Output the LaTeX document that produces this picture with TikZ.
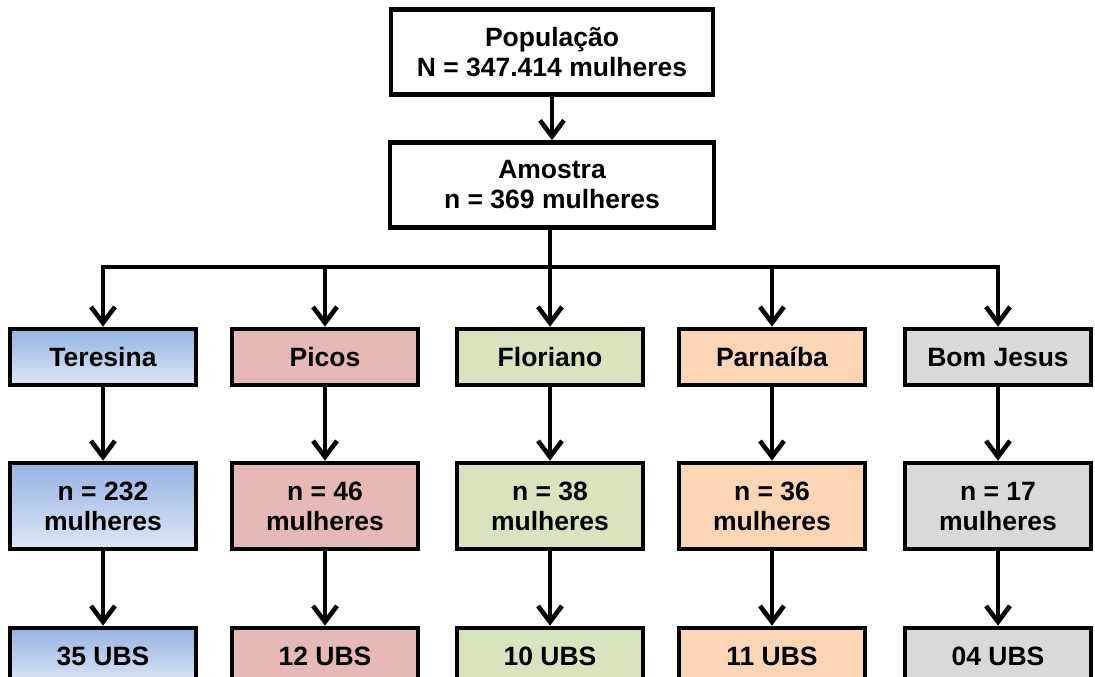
\documentclass[tikz,border=0pt]{standalone}
\usepackage{fontspec}
\setmainfont{Liberation Sans}
\usetikzlibrary{arrows.meta,positioning}
\definecolor{TereTop}{RGB}{149,179,226}
\definecolor{TereBot}{RGB}{222,231,245}
\definecolor{PicosRose}{RGB}{230,185,184}
\definecolor{FlorGreen}{RGB}{215,228,189}
\definecolor{ParnPeach}{RGB}{252,213,181}
\definecolor{BomGray}{RGB}{217,217,217}

\begin{document}
\begin{tikzpicture}[x=.5pt,y=-.5pt,
  box/.style={draw,line width=2.3pt,font=\fontsize{13.25}{15}\selectfont\bfseries,align=center,inner sep=0pt,minimum width=93pt},
  lnk/.style={line width=2.3pt},
  arr/.style={line width=2.3pt,-{Straight Barb[length=8pt,width=12pt]}},
  c1/.style={top color=TereTop,bottom color=TereBot},
  c2/.style={fill=PicosRose},
  c3/.style={fill=FlorGreen},
  c4/.style={fill=ParnPeach},
  c5/.style={fill=BomGray}]
\useasboundingbox (0,0) rectangle (1095,676);
\clip (0,0) rectangle (1095,676);
% topo
\node[box,minimum width=161pt,minimum height=42.5pt] (pop) at (552,52) {População\\N = 347.414 mulheres};
\node[box,minimum width=162pt,minimum height=42.5pt] (amo) at (552,185) {Amostra\\n = 369 mulheres};
\draw[arr] (pop) -- (amo);
\coordinate (bus) at (550,267);
% cidades
\foreach \i/\x/\city/\num/\ubs in {1/103/Teresina/232/35,2/325/Picos/46/12,3/550/Floriano/38/10,4/772/Parnaíba/36/11,5/998/Bom Jesus/17/04}{
\node[box,c\i,minimum height=28pt] (city\i) at (\x,357) {\city};
\node[box,c\i,minimum height=43pt] (num\i) at (\x,506) {n = \num\\mulheres};
\node[box,c\i,minimum height=28pt] (ubs\i) at (\x,656) {\ubs\ UBS};
\draw[arr] (city\i.north |- bus) -- (city\i.north);
\draw[arr] (city\i) -- (num\i);
\draw[arr] (num\i) -- (ubs\i);}
\draw[lnk] (amo.south -| bus) -- (bus);
\draw[lnk,line cap=rect] (city1.north |- bus) -- (city5.north |- bus);
\end{tikzpicture}
\end{document}
